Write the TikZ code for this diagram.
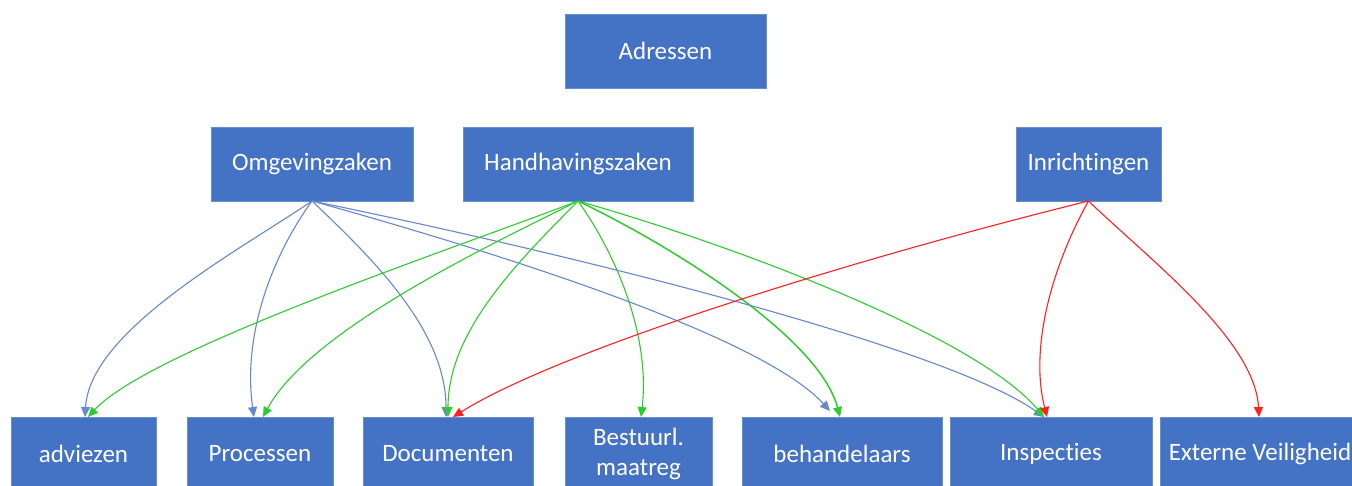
\documentclass[tikz,border=0pt]{standalone}
\usepackage{fontspec}
\setmainfont{Carlito}[Ligatures=NoCommon]
\usetikzlibrary{arrows.meta}
\definecolor{boxblue}{HTML}{4472C4}
\definecolor{edgeblue}{HTML}{6688CE}
\definecolor{edgegreen}{HTML}{2ECC2E}
\definecolor{edgered}{HTML}{FF2020}
\tikzset{
  box/.style={rectangle, fill=boxblue, draw=boxblue!80!white, line width=0.8pt, text=white,
    minimum height=74pt, inner sep=0pt, outer sep=0pt, align=center,
    font=\fontsize{25}{30}\selectfont},
  conn/.style={line width=1.1pt, -{Triangle[length=10pt,width=9pt]}},
  bl/.style={conn, draw=edgeblue},
  gr/.style={conn, draw=edgegreen},
  rd/.style={conn, draw=edgered}
}
\begin{document}
\begin{tikzpicture}[x=1pt,y=-1pt]
\useasboundingbox (0,0) rectangle (1352,486);
\clip (0,0) rectangle (1352,486);
\fill[white] (0,0) rectangle (1352,486);
% top
\node[box, minimum width=201pt] (adr) at (665.5,51) {Adressen};
\node[box, minimum width=202pt] (omg) at (312,164) {Omgevingzaken};
\node[box, minimum width=230pt] (hh) at (578,164) {Handhavingszaken};
\node[box, minimum width=145pt] (inr) at (1088.5,164) {Inrichtingen};
% bottom
\node[box, minimum width=145pt] (adv) at (83.5,454) {adviezen};
\node[box, minimum width=146pt] (pro) at (260,454) {Processen};
\node[box, minimum width=170pt] (doc) at (448,454) {Documenten};
\node[box, minimum width=147pt] (bes) at (638.5,454) {Bestuurl.\\maatreg};
\node[box, minimum width=200pt] (beh) at (842,454) {behandelaars};
\node[box, minimum width=202pt] (ins) at (1051,454) {Inspecties};
\node[box, minimum width=200pt] (ext) at (1260,454) {Externe Veiligheid};
% blue from Omgevingzaken
\draw[bl] (omg.south) .. controls (240,250) and (90,330) .. ([xshift=1.5pt]adv.north);
\draw[bl] (omg.south) .. controls (268,262) and (243,340) .. ([xshift=-6pt]pro.north);
\draw[bl] (omg.south) .. controls (372,258) and (446,330) .. ([xshift=-2pt]doc.north);
\draw[bl] (omg.south) .. controls (560,270) and (770,345) .. ([xshift=-12pt,yshift=6pt]beh.north);
\draw[bl] (omg.south) .. controls (600,260) and (950,350) .. ([xshift=-7pt]ins.north);
% green from Handhavingszaken
\draw[gr] (hh.south) .. controls (450,250) and (150,350) .. ([xshift=4.5pt]adv.north);
\draw[gr] (hh.south) .. controls (490,245) and (310,330) .. ([xshift=3pt]pro.north);
\draw[gr] (hh.south) .. controls (520,260) and (448,330) .. (doc.north);
\draw[gr] (hh.south) .. controls (620,260) and (650,340) .. ([xshift=2.5pt]bes.north);
\draw[gr, line width=1.5pt] (hh.south) .. controls (680,250) and (820,340) .. ([xshift=-2pt]beh.north);
\draw[gr] (hh.south) .. controls (750,250) and (980,340) .. ([xshift=-7pt]ins.north);
% red from Inrichtingen
\draw[rd] (inr.south) .. controls (850,260) and (560,350) .. ([xshift=5pt]doc.north);
\draw[rd] (inr.south) .. controls (1050,270) and (1030,350) .. ([xshift=-4pt]ins.north);
\draw[rd] (inr.south) .. controls (1150,260) and (1255,340) .. ([xshift=-1pt]ext.north);
\end{tikzpicture}
\end{document}
